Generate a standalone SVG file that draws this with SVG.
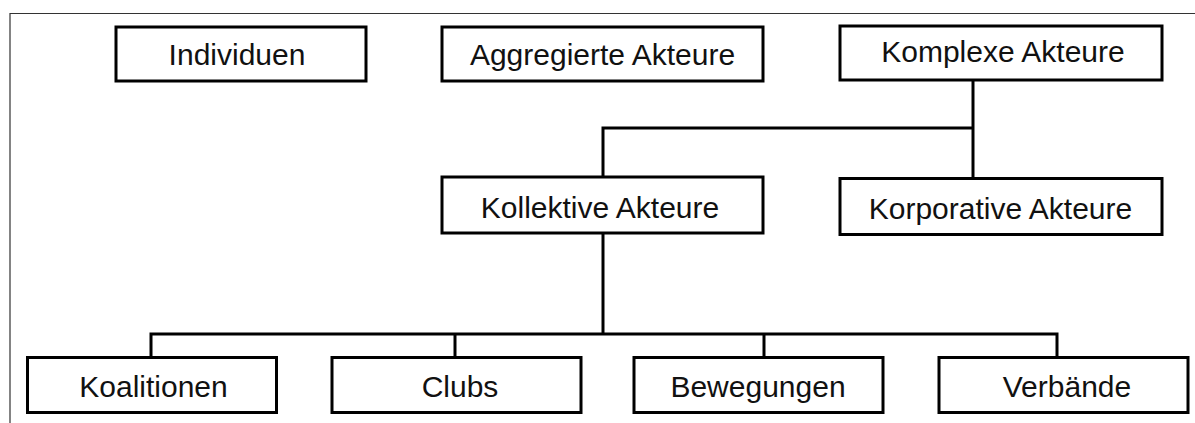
<svg xmlns="http://www.w3.org/2000/svg" width="1195" height="423" viewBox="0 0 1195 423">
  <style>
    .box { fill: #ffffff; stroke: #000000; stroke-width: 3; }
    .lbl { font-family: "Liberation Sans", Arial, sans-serif; font-size: 30px; fill: #111111; text-anchor: middle; }
    .wire { fill: none; stroke: #000000; stroke-width: 3; stroke-linejoin: miter; }
    .frame { fill: none; stroke: #333333; stroke-width: 1.2; }
  </style>
  <rect width="1195" height="423" fill="#ffffff"/>
  <!-- page frame: top and left edges -->
  <path class="frame" d="M10,423 V13.5 H1195"/>

  <g id="connectors">
    <path class="wire" d="M973,80 V178"/>
    <path class="wire" d="M603,177 V128 H973"/>
    <path class="wire" d="M603,233 V334"/>
    <path class="wire" d="M151,357 V334 H1057 V357"/>
    <path class="wire" d="M455,334 V357"/>
    <path class="wire" d="M764,334 V357"/>
  </g>

  <g id="individuen">
    <rect class="box" x="116" y="27" width="250" height="54"/>
    <text class="lbl" x="237" y="64.5">Individuen</text>
  </g>
  <g id="aggregierte-akteure">
    <rect class="box" x="442" y="27" width="321" height="54"/>
    <text class="lbl" x="602.5" y="64.5">Aggregierte Akteure</text>
  </g>
  <g id="komplexe-akteure">
    <rect class="box" x="840" y="26" width="322" height="54"/>
    <text class="lbl" x="1003" y="62">Komplexe Akteure</text>
  </g>
  <g id="kollektive-akteure">
    <rect class="box" x="442" y="177" width="321" height="56"/>
    <text class="lbl" x="600" y="217.5">Kollektive Akteure</text>
  </g>
  <g id="korporative-akteure">
    <rect class="box" x="840" y="178.5" width="322" height="56"/>
    <text class="lbl" x="1000.5" y="219">Korporative Akteure</text>
  </g>
  <g id="koalitionen">
    <rect class="box" x="27.5" y="357.5" width="249" height="55"/>
    <text class="lbl" x="153.5" y="397">Koalitionen</text>
  </g>
  <g id="clubs">
    <rect class="box" x="332" y="357.5" width="249" height="55"/>
    <text class="lbl" x="460" y="397">Clubs</text>
  </g>
  <g id="bewegungen">
    <rect class="box" x="634" y="357.5" width="249" height="55"/>
    <text class="lbl" x="758" y="397">Bewegungen</text>
  </g>
  <g id="verbaende">
    <rect class="box" x="939" y="357.5" width="249" height="55"/>
    <text class="lbl" x="1067" y="397">Verbände</text>
  </g>
</svg>
